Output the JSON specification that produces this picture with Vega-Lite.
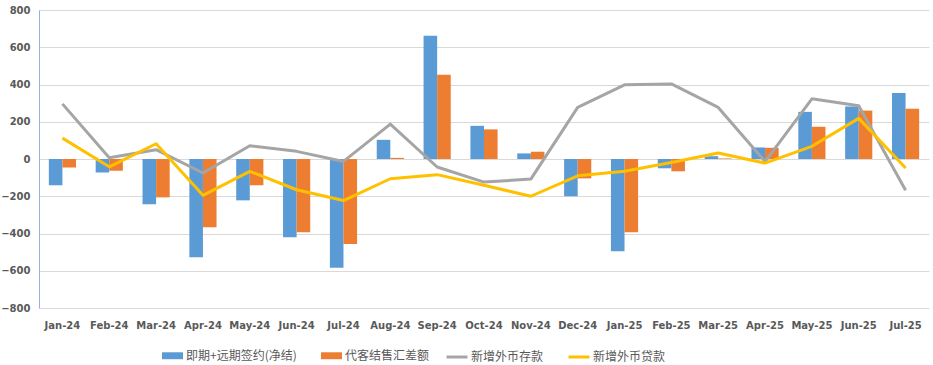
{
  "$schema": "https://vega.github.io/schema/vega-lite/v6.json",
  "autosize": "none",
  "width": 890,
  "height": 298,
  "padding": {"left": 39, "top": 10, "right": 4, "bottom": 57},
  "background": "white",
  "config": {
    "view": {"stroke": null},
    "axis": {"labelFont": "DejaVu Sans", "labelFontWeight": "bold", "labelFontSize": 10, "labelColor": "#595959", "title": null}
  },
  "datasets": {
    "bars": [
      {"month": "Jan-24", "series": "即期+远期签约(净结)", "value": -141},
      {"month": "Jan-24", "series": "代客结售汇差额", "value": -45},
      {"month": "Feb-24", "series": "即期+远期签约(净结)", "value": -72},
      {"month": "Feb-24", "series": "代客结售汇差额", "value": -63},
      {"month": "Mar-24", "series": "即期+远期签约(净结)", "value": -243},
      {"month": "Mar-24", "series": "代客结售汇差额", "value": -206},
      {"month": "Apr-24", "series": "即期+远期签约(净结)", "value": -527},
      {"month": "Apr-24", "series": "代客结售汇差额", "value": -366},
      {"month": "May-24", "series": "即期+远期签约(净结)", "value": -222},
      {"month": "May-24", "series": "代客结售汇差额", "value": -141},
      {"month": "Jun-24", "series": "即期+远期签约(净结)", "value": -420},
      {"month": "Jun-24", "series": "代客结售汇差额", "value": -393},
      {"month": "Jul-24", "series": "即期+远期签约(净结)", "value": -584},
      {"month": "Jul-24", "series": "代客结售汇差额", "value": -457},
      {"month": "Aug-24", "series": "即期+远期签约(净结)", "value": 103},
      {"month": "Aug-24", "series": "代客结售汇差额", "value": 6},
      {"month": "Sep-24", "series": "即期+远期签约(净结)", "value": 662},
      {"month": "Sep-24", "series": "代客结售汇差额", "value": 452},
      {"month": "Oct-24", "series": "即期+远期签约(净结)", "value": 178},
      {"month": "Oct-24", "series": "代客结售汇差额", "value": 159},
      {"month": "Nov-24", "series": "即期+远期签约(净结)", "value": 30},
      {"month": "Nov-24", "series": "代客结售汇差额", "value": 39},
      {"month": "Dec-24", "series": "即期+远期签约(净结)", "value": -200},
      {"month": "Dec-24", "series": "代客结售汇差额", "value": -104},
      {"month": "Jan-25", "series": "即期+远期签约(净结)", "value": -495},
      {"month": "Jan-25", "series": "代客结售汇差额", "value": -393},
      {"month": "Feb-25", "series": "即期+远期签约(净结)", "value": -50},
      {"month": "Feb-25", "series": "代客结售汇差额", "value": -66},
      {"month": "Mar-25", "series": "即期+远期签约(净结)", "value": 15},
      {"month": "Mar-25", "series": "代客结售汇差额", "value": 3},
      {"month": "Apr-25", "series": "即期+远期签约(净结)", "value": 62},
      {"month": "Apr-25", "series": "代客结售汇差额", "value": 60},
      {"month": "May-25", "series": "即期+远期签约(净结)", "value": 253},
      {"month": "May-25", "series": "代客结售汇差额", "value": 173},
      {"month": "Jun-25", "series": "即期+远期签约(净结)", "value": 282},
      {"month": "Jun-25", "series": "代客结售汇差额", "value": 260},
      {"month": "Jul-25", "series": "即期+远期签约(净结)", "value": 355},
      {"month": "Jul-25", "series": "代客结售汇差额", "value": 270}
    ],
    "lines": [
      {"month": "Jan-24", "series": "新增外币存款", "value": 296},
      {"month": "Feb-24", "series": "新增外币存款", "value": 7},
      {"month": "Mar-24", "series": "新增外币存款", "value": 50},
      {"month": "Apr-24", "series": "新增外币存款", "value": -75},
      {"month": "May-24", "series": "新增外币存款", "value": 71},
      {"month": "Jun-24", "series": "新增外币存款", "value": 41},
      {"month": "Jul-24", "series": "新增外币存款", "value": -13},
      {"month": "Aug-24", "series": "新增外币存款", "value": 187},
      {"month": "Sep-24", "series": "新增外币存款", "value": -43},
      {"month": "Oct-24", "series": "新增外币存款", "value": -124},
      {"month": "Nov-24", "series": "新增外币存款", "value": -108},
      {"month": "Dec-24", "series": "新增外币存款", "value": 277},
      {"month": "Jan-25", "series": "新增外币存款", "value": 398},
      {"month": "Feb-25", "series": "新增外币存款", "value": 403},
      {"month": "Mar-25", "series": "新增外币存款", "value": 277},
      {"month": "Apr-25", "series": "新增外币存款", "value": -14},
      {"month": "May-25", "series": "新增外币存款", "value": 323},
      {"month": "Jun-25", "series": "新增外币存款", "value": 286},
      {"month": "Jul-25", "series": "新增外币存款", "value": -168},
      {"month": "Jan-24", "series": "新增外币贷款", "value": 112},
      {"month": "Feb-24", "series": "新增外币贷款", "value": -42},
      {"month": "Mar-24", "series": "新增外币贷款", "value": 82},
      {"month": "Apr-24", "series": "新增外币贷款", "value": -195},
      {"month": "May-24", "series": "新增外币贷款", "value": -66},
      {"month": "Jun-24", "series": "新增外币贷款", "value": -165},
      {"month": "Jul-24", "series": "新增外币贷款", "value": -223},
      {"month": "Aug-24", "series": "新增外币贷款", "value": -106},
      {"month": "Sep-24", "series": "新增外币贷款", "value": -84},
      {"month": "Oct-24", "series": "新增外币贷款", "value": -141},
      {"month": "Nov-24", "series": "新增外币贷款", "value": -200},
      {"month": "Dec-24", "series": "新增外币贷款", "value": -90},
      {"month": "Jan-25", "series": "新增外币贷款", "value": -66},
      {"month": "Feb-25", "series": "新增外币贷款", "value": -19},
      {"month": "Mar-25", "series": "新增外币贷款", "value": 32},
      {"month": "Apr-25", "series": "新增外币贷款", "value": -22},
      {"month": "May-25", "series": "新增外币贷款", "value": 68},
      {"month": "Jun-25", "series": "新增外币贷款", "value": 218},
      {"month": "Jul-25", "series": "新增外币贷款", "value": -48}
    ]
  },
  "encoding": {
    "x": {
      "field": "month", "type": "nominal", "sort": null,
      "scale": {"paddingInner": 0.42, "paddingOuter": 0.21},
      "axis": {"labelAngle": 0, "domain": false, "ticks": false, "labelPadding": 12, "grid": false, "labelOverlap": false}
    },
    "y": {
      "field": "value", "type": "quantitative",
      "scale": {"domain": [-800, 800], "nice": false},
      "axis": {"values": [-800, -600, -400, -200, 0, 200, 400, 600, 800], "tickCount": 9, "labelOverlap": false, "grid": true, "gridColor": "#d9d9d9", "gridWidth": 1, "domainColor": "#8eb4e3", "domainWidth": 1, "ticks": false, "labelPadding": 9}
    }
  },
  "layer": [
    {
      "data": {"name": "bars"},
      "mark": {"type": "bar"},
      "encoding": {
        "xOffset": {"field": "series", "type": "nominal", "sort": ["即期+远期签约(净结)", "代客结售汇差额"], "scale": {"paddingInner": 0}},
        "fill": {
          "field": "series", "type": "nominal",
          "scale": {"domain": ["即期+远期签约(净结)", "代客结售汇差额"], "range": ["#5b9bd5", "#ed7d31"]},
          "legend": {
            "orient": "none", "direction": "horizontal", "legendX": 123, "legendY": 335, "title": null,
            "symbolType": "M-1,-0.33H1V0.33H-1Z", "symbolSize": 441, "symbolStrokeWidth": 0,
            "labelFont": "Noto Sans CJK SC", "labelFontSize": 12, "labelColor": "#595959", "labelOffset": 3,
            "columnPadding": 24, "labelLimit": 300
          }
        }
      }
    },
    {
      "data": {"name": "lines"},
      "mark": {"type": "line", "strokeWidth": 3, "strokeJoin": "round"},
      "encoding": {
        "stroke": {
          "field": "series", "type": "nominal",
          "scale": {"domain": ["新增外币存款", "新增外币贷款"], "range": ["#a5a5a5", "#ffc000"]},
          "legend": {
            "orient": "none", "direction": "horizontal", "legendX": 406, "legendY": 335, "title": null,
            "symbolType": "stroke", "symbolSize": 441, "symbolStrokeWidth": 3,
            "labelFont": "Noto Sans CJK SC", "labelFontSize": 12, "labelColor": "#595959", "labelOffset": 2,
            "columnPadding": 18, "labelLimit": 300
          }
        }
      }
    }
  ]
}
